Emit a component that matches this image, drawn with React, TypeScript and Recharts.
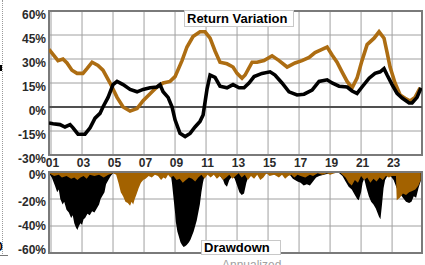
import React from 'react';
import {
  ComposedChart,
  Line,
  Area,
  XAxis,
  YAxis,
  CartesianGrid,
  ReferenceLine,
  ReferenceArea,
} from 'recharts';

// ---- axis ticks ----
const yearTicks = [2001, 2003, 2005, 2007, 2009, 2011, 2013, 2015, 2017, 2019, 2021, 2023];
const returnTicks = [-30, -15, 0, 15, 30, 45, 60];
const drawdownTicks = [-60, -40, -20, 0];
const X_MIN = 2000.87;
const X_MAX = 2024.93;

// ---- Return Variation (rolling return, %) ----
const fundReturn: [number, number][] = [
  [2000.87, -10], [2001.13, -10.5], [2001.58, -11], [2001.9, -12.5], [2002.23, -11],
  [2002.42, -13], [2002.74, -17], [2003.19, -17], [2003.52, -13], [2003.84, -7],
  [2004.16, -4], [2004.35, 0], [2004.68, 6], [2005.0, 14], [2005.26, 16],
  [2005.65, 14], [2006.1, 11], [2006.55, 9.5], [2006.94, 11], [2007.39, 12],
  [2007.84, 12.5], [2008.03, 14], [2008.23, 9.5], [2008.55, 6], [2008.81, 0],
  [2009.0, -8], [2009.32, -16.5], [2009.65, -18.5], [2009.97, -16.5], [2010.29, -12.5],
  [2010.61, -9], [2010.81, -5], [2011.06, 11], [2011.26, 20], [2011.58, 18.5],
  [2011.9, 13], [2012.35, 12], [2012.74, 14], [2013.13, 12], [2013.45, 12],
  [2013.77, 15], [2014.1, 19], [2014.61, 21], [2015.13, 22], [2015.45, 20],
  [2015.9, 15], [2016.35, 9.5], [2016.87, 7.5], [2017.32, 8], [2017.84, 10.6],
  [2018.29, 16], [2018.81, 17], [2019.13, 15], [2019.58, 13], [2020.1, 12.5],
  [2020.42, 10], [2020.74, 8.5], [2021.06, 12.5], [2021.52, 18], [2021.9, 21],
  [2022.23, 22], [2022.48, 24], [2022.68, 20], [2023.0, 14], [2023.32, 8.5],
  [2023.65, 5.6], [2024.1, 2.5], [2024.29, 2.5], [2024.61, 6], [2024.87, 12],
];

const benchReturn: [number, number][] = [
  [2000.87, 36], [2001.45, 29], [2001.77, 30], [2002.03, 27.5], [2002.35, 23],
  [2002.68, 21], [2003.06, 21], [2003.32, 24], [2003.65, 28], [2004.03, 26],
  [2004.35, 23], [2004.81, 15], [2005.26, 6], [2005.65, 0], [2006.1, -2.5],
  [2006.55, -1], [2006.94, 4], [2007.52, 9.5], [2007.84, 12.5], [2008.23, 15],
  [2008.68, 16], [2009.0, 19], [2009.45, 29], [2009.77, 37.5], [2010.16, 44],
  [2010.61, 47], [2010.94, 47], [2011.26, 43], [2011.58, 35], [2011.9, 28],
  [2012.35, 27], [2012.74, 25], [2013.0, 21], [2013.32, 18], [2013.52, 20],
  [2013.97, 28], [2014.29, 28], [2014.74, 29], [2015.26, 32], [2015.71, 29],
  [2016.23, 25], [2016.74, 27.5], [2017.19, 29], [2017.65, 31], [2018.03, 34],
  [2018.48, 36], [2018.81, 37.5], [2019.13, 32.5], [2019.45, 28], [2019.77, 22],
  [2020.1, 16], [2020.42, 12], [2020.74, 18], [2021.06, 29], [2021.39, 39],
  [2021.84, 43], [2022.16, 47], [2022.48, 43], [2022.68, 34], [2022.87, 25],
  [2023.19, 15], [2023.52, 7.5], [2023.84, 5.5], [2024.16, 3.75], [2024.48, 6],
  [2024.81, 12],
];

// ---- Drawdown (%) ----
const fundDrawdown: [number, number][] = [
  [2000.87, -1], [2001.05, -4], [2001.25, -10], [2001.4, -15], [2001.5, -13],
  [2001.6, -20], [2001.75, -24], [2001.85, -22], [2002.0, -28], [2002.15, -30],
  [2002.3, -34], [2002.4, -32], [2002.5, -38], [2002.6, -41], [2002.7, -43],
  [2002.8, -40], [2002.9, -38], [2003.0, -39], [2003.1, -35], [2003.2, -34],
  [2003.35, -31], [2003.5, -32], [2003.65, -29], [2003.8, -30], [2003.95, -27],
  [2004.1, -24], [2004.2, -20], [2004.3, -18], [2004.45, -15], [2004.55, -9],
  [2004.7, -6], [2004.85, -3], [2005.0, -1], [2005.2, 0], [2005.6, -2],
  [2006.0, -3], [2006.5, -2], [2007.0, -1], [2007.5, -2], [2008.0, -1],
  [2008.7, 0], [2008.8, -8], [2008.9, -19], [2009.0, -30], [2009.05, -37],
  [2009.15, -44], [2009.25, -48], [2009.35, -52], [2009.45, -54], [2009.55, -55.5],
  [2009.65, -55], [2009.75, -54], [2009.9, -52], [2010.0, -50], [2010.1, -47],
  [2010.2, -44], [2010.3, -40], [2010.4, -36], [2010.5, -30], [2010.6, -24],
  [2010.7, -15], [2010.8, -8], [2010.9, -3], [2011.0, -1], [2011.3, -2],
  [2011.6, -1], [2011.9, -3], [2012.1, -6], [2012.2, -9], [2012.35, -11],
  [2012.5, -6], [2012.7, -3], [2012.85, -5], [2013.0, -10], [2013.15, -15],
  [2013.3, -17], [2013.45, -16], [2013.6, -8], [2013.75, -3], [2014.0, -1],
  [2014.5, -2], [2015.0, -1], [2015.5, -2], [2016.0, -1], [2016.4, -2],
  [2016.6, -5], [2016.9, -7], [2017.1, -8], [2017.3, -10], [2017.5, -9],
  [2017.7, -10], [2017.9, -7], [2018.1, -4], [2018.3, -3], [2018.6, -2],
  [2019.0, -1], [2019.5, 0], [2019.8, -3], [2020.0, -7], [2020.2, -11],
  [2020.4, -13], [2020.6, -17], [2020.75, -20], [2020.85, -21], [2021.0, -15],
  [2021.1, -8], [2021.2, -5], [2021.35, -12], [2021.5, -18], [2021.65, -22],
  [2021.8, -24], [2021.95, -27], [2022.05, -30], [2022.15, -33], [2022.25, -35],
  [2022.35, -24], [2022.45, -12], [2022.55, -6], [2022.7, -3], [2022.9, -3],
  [2023.1, -6], [2023.3, -12], [2023.5, -16], [2023.7, -19], [2023.9, -22],
  [2024.1, -23], [2024.25, -22], [2024.4, -18], [2024.55, -19], [2024.7, -12],
  [2024.87, -6],
];

const benchDrawdown: [number, number][] = [
  [2000.87, -1], [2001.2, -3], [2001.5, -2], [2001.7, -4], [2002.0, -3],
  [2002.3, -5], [2002.5, -4], [2002.7, -6], [2002.9, -4], [2003.1, -3],
  [2003.3, -5], [2003.5, -2], [2003.8, -3], [2004.1, -2], [2004.4, -4],
  [2004.7, -2], [2005.0, -1], [2005.2, -2], [2005.35, -8], [2005.5, -15],
  [2005.65, -18], [2005.8, -22], [2005.95, -23], [2006.1, -25], [2006.2, -22],
  [2006.3, -24], [2006.4, -20], [2006.5, -17], [2006.65, -12], [2006.8, -8],
  [2006.95, -6], [2007.1, -5], [2007.3, -3], [2007.5, -4], [2007.7, -2],
  [2007.9, -3], [2008.1, -6], [2008.25, -4], [2008.4, -5], [2008.55, -2],
  [2008.7, -4], [2008.9, -3], [2009.1, -6], [2009.3, -5], [2009.5, -8],
  [2009.7, -6], [2009.9, -4], [2010.1, -5], [2010.3, -7], [2010.5, -4],
  [2010.7, -2], [2010.9, -5], [2011.1, -2], [2011.3, -4], [2011.5, -2],
  [2011.7, -5], [2011.9, -3], [2012.1, -6], [2012.3, -4], [2012.5, -2],
  [2012.7, -5], [2012.9, -3], [2013.1, -1], [2013.3, -4], [2013.5, -2],
  [2013.7, -6], [2013.9, -3], [2014.1, -5], [2014.3, -2], [2014.5, -6],
  [2014.7, -4], [2014.9, -1], [2015.1, -3], [2015.4, -2], [2015.7, -4],
  [2015.9, -2], [2016.1, -5], [2016.3, -3], [2016.5, -2], [2016.7, -4],
  [2016.9, -2], [2017.1, -3], [2017.4, -4], [2017.7, -2], [2017.9, -3],
  [2018.2, -1], [2018.5, -2], [2018.8, -1], [2019.0, -2], [2019.3, -1],
  [2019.6, 0], [2019.8, -2], [2020.0, -4], [2020.2, -8], [2020.4, -10],
  [2020.6, -6], [2020.8, -8], [2021.0, -3], [2021.2, -6], [2021.4, -4],
  [2021.6, -8], [2021.8, -5], [2022.0, -7], [2022.2, -4], [2022.4, -6],
  [2022.6, -3], [2022.8, -4], [2023.0, -3], [2023.25, -3], [2023.3, -21],
  [2023.5, -19], [2023.7, -16], [2023.9, -17], [2024.1, -15], [2024.3, -14],
  [2024.5, -13], [2024.7, -10], [2024.85, -6],
];

const toPts = (arr: [number, number][]) => arr.map(([x, y]) => ({ x, y }));

const FONT = '"Liberation Sans", Arial, sans-serif';
const BLACK = '#000000';
const BROWN_LINE = '#AD6D12';
const BROWN_AREA = '#A36200';
const GRID = '#a0a0a0';
const FRAME = '#7a7a7a';
const TEXT = '#2a2a2a';

const XTick = (props: any) => {
  const { x, y, payload } = props;
  const label = String(payload.value % 100).padStart(2, '0');
  return (
    <text x={x + 1.5} y={y + 12} textAnchor="middle" fontFamily={FONT} fontSize={12} fontWeight="bold" fill={TEXT}>
      {label}
    </text>
  );
};

const TopYTick = (props: any) => {
  const { x, y, payload } = props;
  return (
    <text x={x} y={y + 8} textAnchor="end" fontFamily={FONT} fontSize={12} fontWeight="bold" fill={TEXT}>
      {payload.value}%
    </text>
  );
};

const bottomOffsets: Record<number, number> = { 0: 7, [-20]: 6.5, [-40]: 4, [-60]: 1 };
const BottomYTick = (props: any) => {
  const { x, y, payload } = props;
  return (
    <text x={x} y={y + (bottomOffsets[payload.value] ?? 4)} textAnchor="end" fontFamily={FONT} fontSize={12} fontWeight="bold" fill={TEXT}>
      {payload.value}%
    </text>
  );
};

export default function App() {
  return (
    <div
      style={{
        position: 'absolute',
        left: 0,
        top: 0,
        width: 425,
        height: 265,
        background: '#fff',
        overflow: 'hidden',
        fontFamily: FONT,
      }}
    >
      {/* left-edge fragments of neighbouring panel */}
      <div style={{ position: 'absolute', left: 2, top: 0, width: 0, height: 256, borderLeft: '1px dotted #9a9a9a' }} />
      <div style={{ position: 'absolute', left: 0, top: 65, width: 2, height: 6, background: '#000' }} />
      <div style={{ position: 'absolute', left: 0, top: 255, width: 8, height: 1, background: '#777' }} />
      <div style={{ position: 'absolute', left: -4, top: 240, fontSize: 12, fontWeight: 'bold', color: '#000', lineHeight: '14px' }}>0</div>

      {/* Return Variation */}
      <div style={{ position: 'absolute', left: 0, top: 0 }}>
        <ComposedChart width={425} height={170} margin={{ top: 11, right: 3, bottom: 0, left: 0 }}>
          <CartesianGrid stroke={GRID} strokeWidth={1} />
          <XAxis
            type="number"
            dataKey="x"
            domain={[X_MIN, X_MAX]}
            allowDataOverflow
            ticks={yearTicks}
            interval={0}
            height={15}
            axisLine={false}
            tickLine={false}
            tickSize={0}
            tickMargin={0}
            tick={<XTick />}
          />
          <YAxis
            type="number"
            domain={[-30, 60]}
            ticks={returnTicks}
            interval={0}
            width={49}
            axisLine={false}
            tickLine={false}
            tickSize={0}
            tickMargin={3}
            tick={<TopYTick />}
          />
          <ReferenceLine y={0} stroke="#505050" strokeWidth={2} />
          <Line data={toPts(benchReturn)} dataKey="y" type="linear" stroke={BROWN_LINE} strokeWidth={3.6} dot={false} isAnimationActive={false} />
          <Line data={toPts(fundReturn)} dataKey="y" type="linear" stroke={BLACK} strokeWidth={3.6} dot={false} isAnimationActive={false} />
          <ReferenceArea x1={X_MIN} x2={X_MAX} y1={-30} y2={60} fill="none" stroke={FRAME} strokeWidth={2} />
        </ComposedChart>
      </div>

      {/* Drawdown */}
      <div style={{ position: 'absolute', left: 0, top: 160 }}>
        <ComposedChart width={425} height={102} margin={{ top: 12, right: 3, bottom: 9, left: 0 }}>
          <CartesianGrid stroke={GRID} strokeWidth={1} />
          <XAxis type="number" dataKey="x" domain={[X_MIN, X_MAX]} allowDataOverflow ticks={yearTicks} interval={0} hide />
          <YAxis
            type="number"
            domain={[-60, 0]}
            ticks={drawdownTicks}
            interval={0}
            width={49}
            axisLine={false}
            tickLine={false}
            tickSize={0}
            tickMargin={3}
            tick={<BottomYTick />}
          />
          <Area data={toPts(fundDrawdown)} dataKey="y" type="linear" baseValue={0} stroke="none" fill={BLACK} fillOpacity={1} isAnimationActive={false} />
          <Area data={toPts(benchDrawdown)} dataKey="y" type="linear" baseValue={0} stroke="none" fill={BROWN_AREA} fillOpacity={1} isAnimationActive={false} />
          <ReferenceArea x1={X_MIN} x2={X_MAX} y1={-60} y2={0} fill="none" stroke={FRAME} strokeWidth={2} />
        </ComposedChart>
      </div>

      {/* legend labels */}
      <div
        style={{
          position: 'absolute', left: 184, top: 10, width: 106, height: 15,
          background: '#fff', border: '1px solid #c8c8c8', fontSize: 13, fontWeight: 'bold',
          color: '#000', lineHeight: '15px', paddingLeft: 2, boxSizing: 'content-box', whiteSpace: 'nowrap',
        }}
      >
        Return Variation
      </div>
      <div
        style={{
          position: 'absolute', left: 201, top: 240, width: 76, height: 13,
          background: '#fff', border: '1px solid #c8c8c8', fontSize: 13, fontWeight: 'bold',
          color: '#000', lineHeight: '14px', paddingLeft: 2, whiteSpace: 'nowrap',
        }}
      >
        Drawdown
      </div>
      <div style={{ position: 'absolute', left: 222, top: 258, fontSize: 12, color: '#a0a0a0', lineHeight: '14px', whiteSpace: 'nowrap' }}>
        Annualized
      </div>
    </div>
  );
}
